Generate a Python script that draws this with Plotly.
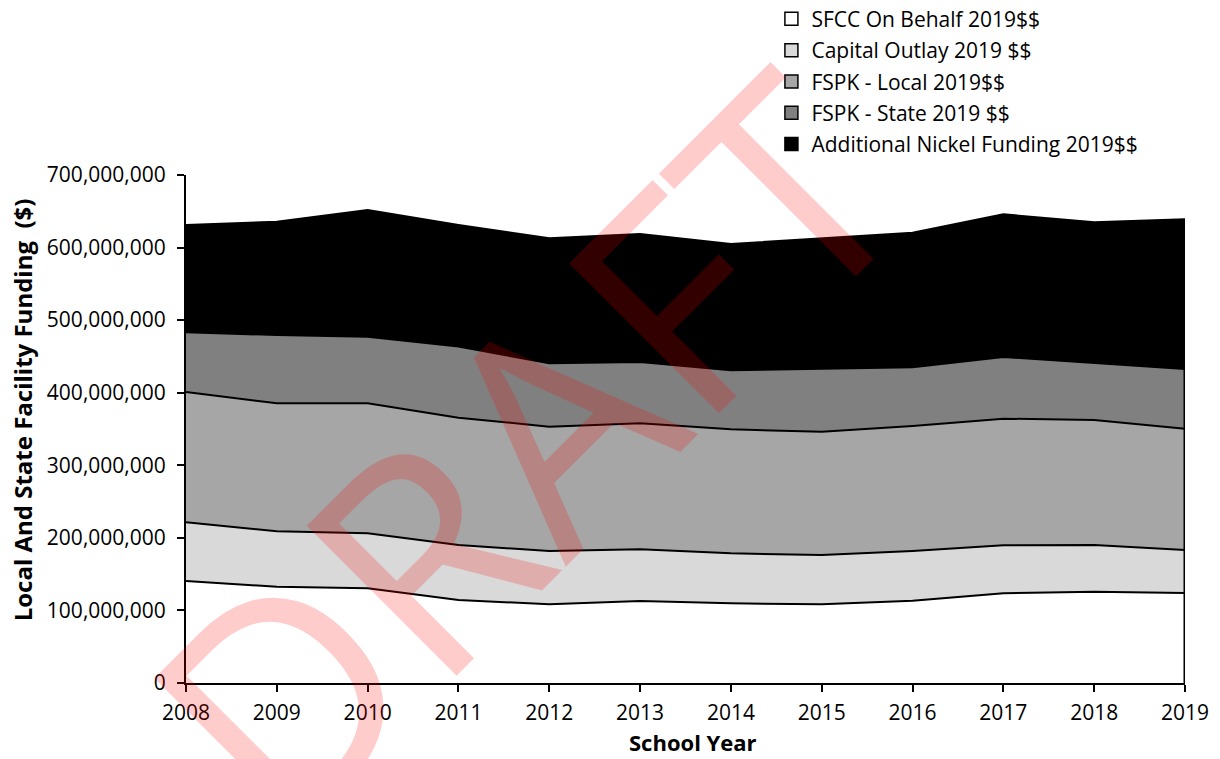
import plotly.graph_objects as go

# School years on the horizontal axis
years = [2008, 2009, 2010, 2011, 2012, 2013, 2014, 2015, 2016, 2017, 2018, 2019]

# Funding components (2019 dollars), stacked bottom to top
sfcc_on_behalf = [140_500_000, 132_700_000, 130_500_000, 114_400_000, 108_400_000, 113_000_000,
                  109_800_000, 108_400_000, 113_400_000, 123_600_000, 125_800_000, 124_000_000]
capital_outlay = [80_900_000, 76_300_000, 75_700_000, 75_800_000, 73_500_000, 71_200_000,
                  68_900_000, 68_000_000, 68_500_000, 66_100_000, 64_400_000, 59_300_000]
fspk_local = [179_600_000, 176_400_000, 179_200_000, 175_400_000, 171_300_000, 173_600_000,
              170_800_000, 169_900_000, 172_200_000, 174_500_000, 172_200_000, 167_200_000]
fspk_state = [82_200_000, 94_100_000, 91_800_000, 97_900_000, 87_300_000, 84_500_000,
              81_400_000, 86_400_000, 80_900_000, 85_000_000, 79_000_000, 82_200_000]
nickel = [147_800_000, 156_200_000, 174_600_000, 167_500_000, 172_300_000, 176_400_000,
          174_100_000, 180_000_000, 185_500_000, 196_600_000, 193_400_000, 206_300_000]

series_names = ["SFCC On Behalf 2019$$", "Capital Outlay 2019 $$", "FSPK - Local 2019$$",
                "FSPK - State 2019 $$", "Additional Nickel Funding 2019$$"]
series_values = [sfcc_on_behalf, capital_outlay, fspk_local, fspk_state, nickel]
fill_colors = ["#ffffff", "#d9d9d9", "#a6a6a6", "#808080", "#000000"]

y_ticks = [0, 100_000_000, 200_000_000, 300_000_000, 400_000_000, 500_000_000,
           600_000_000, 700_000_000]

FONT = "Open Sans"

fig = go.Figure()

# Stacked areas with black outlines
for name, vals, col in zip(series_names, series_values, fill_colors):
    fig.add_trace(go.Scatter(
        x=years, y=vals, name=name, mode="lines", stackgroup="funding",
        line=dict(color="black", width=2), fillcolor=col,
        showlegend=False, hoverinfo="x+y+name",
    ))

# Closing edge of the stack at the last year
total_last = sum(v[-1] for v in series_values)
fig.add_trace(go.Scatter(
    x=[years[-1], years[-1]], y=[0, total_last], mode="lines",
    line=dict(color="black", width=3), showlegend=False, hoverinfo="skip",
))

# Square swatches for the legend
for name, col in zip(series_names, fill_colors):
    fig.add_trace(go.Scatter(
        x=[None], y=[None], mode="markers", name=name, legendgroup=name,
        marker=dict(symbol="square", size=13, color=col, line=dict(color="black", width=1.5)),
    ))

fig.update_layout(
    width=1220, height=759,
    margin=dict(l=186, r=35, t=175, b=76, autoexpand=False),
    paper_bgcolor="white", plot_bgcolor="white",
    font=dict(family=FONT, size=21, color="black"),
    showlegend=True,
    legend=dict(
        x=0.586, y=1.347, xanchor="left", yanchor="top",
        font=dict(family=FONT, size=21, color="black"),
        traceorder="grouped", tracegroupgap=1,
        bgcolor="rgba(0,0,0,0)", borderwidth=0,
    ),
    xaxis=dict(
        range=[years[0], years[-1]], tickmode="array", tickvals=years,
        ticktext=[str(y) for y in years],
        showgrid=False, zeroline=False,
        showline=True, linecolor="black", linewidth=2,
        ticks="outside", ticklen=7, tickwidth=1.5, tickcolor="black",
        ticklabelstandoff=3,
        tickfont=dict(family=FONT, size=21, color="black"),
    ),
    yaxis=dict(
        range=[0, 700_000_000], tickmode="array", tickvals=y_ticks,
        tickformat=",d",
        showgrid=True, gridcolor="#d9d9d9", gridwidth=1.5,
        zeroline=False,
        showline=True, linecolor="black", linewidth=2,
        ticks="outside", ticklen=7, tickwidth=1.5, tickcolor="black",
        ticklabelstandoff=7,
        tickfont=dict(family=FONT, size=21, color="black"),
    ),
    annotations=[
        dict(text="<b>School Year</b>", xref="paper", yref="paper",
             x=0.508, y=-0.117, xanchor="center", yanchor="middle", showarrow=False,
             font=dict(family=FONT, size=22, color="black")),
        dict(text="<b>Local And State Facility Funding\u00a0 ($)</b>", xref="paper", yref="paper",
             x=-0.164, y=0.537, xanchor="center", yanchor="middle", showarrow=False,
             textangle=-90, font=dict(family=FONT, size=24, color="black")),
        dict(text="DRAFT", xref="paper", yref="paper",
             x=0.336, y=0.463, xanchor="center", yanchor="middle", showarrow=False,
             textangle=-45, font=dict(family=FONT, size=297, color="rgba(255,0,0,0.2)")),
    ],
)

fig.write_html("out.html")
